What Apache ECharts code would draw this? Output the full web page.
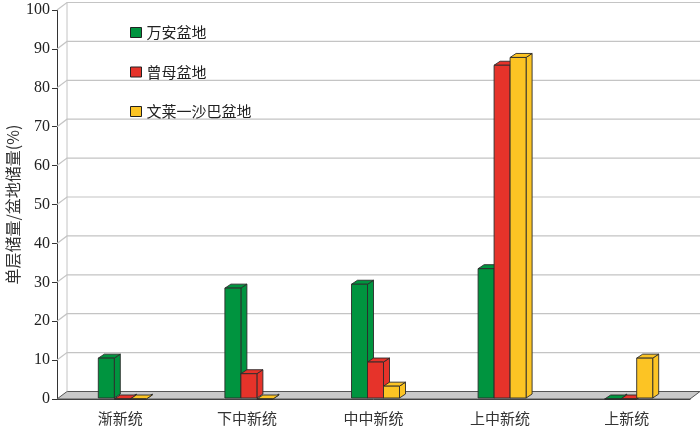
<!DOCTYPE html>
<html>
<head>
<meta charset="utf-8">
<script src="https://cdn.jsdelivr.net/npm/echarts@6/dist/echarts.min.js"></script>
<style>
  html, body { margin: 0; padding: 0; background: #fff; }
  #main { width: 700px; height: 426px; }
</style>
</head>
<body>
<div id="main"></div>
<script>
var categories = ['渐新统', '下中新统', '中中新统', '上中新统', '上新统'];
var seriesNames = ['万安盆地', '曾母盆地', '文莱一沙巴盆地'];
var wananValues = [10.5, 28.5, 29.5, 33.5, 0];
var zengmuValues = [0, 6.5, 9.5, 85.8, 0];
var wenlaiValues = [0, 0, 3.3, 87.8, 10.5];
var yTicks = [0, 10, 20, 30, 40, 50, 60, 70, 80, 90, 100];

var colors = ['#00943f', '#e6332a', '#fcc424'];
var barW = 16;      // 正面宽
var depthX = 6;     // 立体偏移
var depthY = 4;
var wallX = 10;     // 背墙偏移
var wallY = 7.5;

var dom = document.getElementById('main');
var myChart = echarts.init(dom);

function barRender(sIdx) {
    return function (params, api) {
        var cat = api.value(0);
        var val = api.value(1);
        var top = api.coord([cat, val]);
        var base = api.coord([cat, 0]);
        var left = top[0] - 22 + sIdx * barW;
        var right = left + barW;
        var yT = top[1];
        var y0 = base[1] - 1;
        var c = colors[sIdx];
        var st = { fill: c, stroke: '#2b2b2b', lineWidth: 0.9 };
        return {
            type: 'group',
            children: [
                { type: 'polygon', shape: { points: [[right, yT], [right + depthX, yT - depthY], [right + depthX, y0 - depthY], [right, y0]] }, style: st },
                { type: 'polygon', shape: { points: [[left, yT], [left + depthX, yT - depthY], [right + depthX, yT - depthY], [right, yT]] }, style: st },
                { type: 'rect', shape: { x: left, y: yT, width: barW, height: Math.max(y0 - yT, 0) }, style: st }
            ]
        };
    };
}

function wallRender(params, api) {
    var cs = params.coordSys;
    var v = api.value(0);
    var p = api.coord([0, v]);
    var y = p[1];
    var x0 = cs.x, x1 = cs.x + cs.width;
    var children = [];
    if (v === 0) {
        children.push({ type: 'polygon', shape: { points: [[x0, y], [x0 + wallX, y - wallY], [x1 + wallX, y - wallY], [x1, y]] },
            style: { fill: '#c9c9c9', stroke: '#555', lineWidth: 1 } });
        children.push({ type: 'line', shape: { x1: x0 + wallX, y1: y - wallY, x2: x0 + wallX, y2: cs.y - wallY },
            style: { stroke: '#c4c4c4', lineWidth: 1 } });
    } else {
        children.push({ type: 'polyline', shape: { points: [[x0, y], [x0 + wallX, y - wallY], [x1 + wallX, y - wallY]] },
            style: { stroke: '#c4c4c4', lineWidth: 1.2, fill: null } });
    }
    return { type: 'group', children: children };
}

var barSeries = [wananValues, zengmuValues, wenlaiValues].map(function (vals, i) {
    return {
        name: seriesNames[i],
        type: 'custom',
        renderItem: barRender(i),
        clip: false,
        z: 3,
        itemStyle: { color: colors[i] },
        encode: { x: 0, y: 1 },
        data: vals.map(function (v, k) { return [k, v]; })
    };
});

option = {
    backgroundColor: '#fff',
    animation: false,
    color: colors,
    grid: { left: 57, right: 10, top: 10, bottom: 27, outerBoundsMode: 'none' },
    legend: {
        data: seriesNames,
        orient: 'vertical',
        left: 125,
        top: 20,
        icon: 'rect',
        itemWidth: 11,
        itemHeight: 10,
        itemGap: 24.5,
        itemStyle: { borderColor: '#222', borderWidth: 1 },
        textStyle: { fontSize: 15, color: '#222', fontFamily: 'Noto Sans CJK SC' }
    },
    xAxis: {
        type: 'category',
        data: categories,
        axisLine: { show: true, lineStyle: { color: '#333', width: 1 } },
        axisTick: { show: true, inside: true, length: 5, lineStyle: { color: '#333' } },
        axisLabel: { margin: 12, fontSize: 15, color: '#333', fontFamily: 'Noto Sans CJK SC' },
        splitLine: { show: false }
    },
    yAxis: {
        type: 'value',
        min: 0,
        max: 100,
        interval: 10,
        name: '单层储量/盆地储量(%)',
        nameLocation: 'middle',
        nameGap: 36,
        nameMoveOverlap: false,
        nameTextStyle: { fontSize: 16, color: '#333', fontFamily: 'Noto Sans CJK SC' },
        axisLine: { show: true, lineStyle: { color: '#333', width: 1 } },
        axisTick: { show: true, length: 5, lineStyle: { color: '#333' } },
        axisLabel: { margin: 7, fontSize: 16, color: '#222', fontFamily: 'Liberation Serif' },
        splitLine: { show: false }
    },
    series: [{
        name: 'wall',
        type: 'custom',
        renderItem: wallRender,
        clip: false,
        silent: true,
        z: 1,
        encode: { y: 0 },
        data: yTicks.map(function (t) { return [t]; })
    }].concat(barSeries)
};

if (option && typeof option === "object") {
    myChart.setOption(option, true);
}
</script>
</body>
</html>
